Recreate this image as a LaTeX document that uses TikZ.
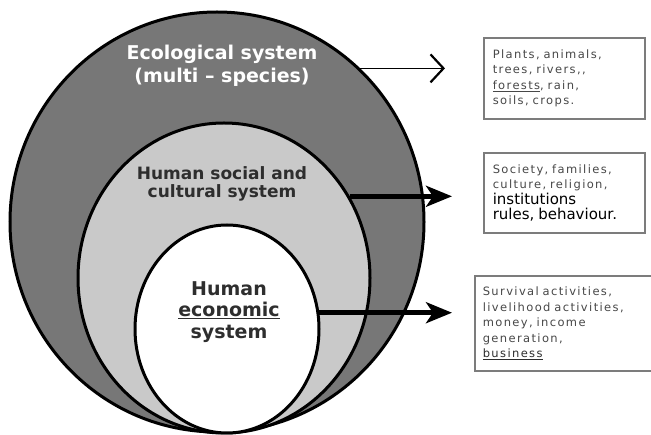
\documentclass[tikz,border=0pt]{standalone}
\usepackage{fontspec}
\setmainfont{DejaVu Sans}
\newfontfamily\spacedfont[LetterSpace=12,WordSpace=1.7]{DejaVu Sans}
\usepackage{xcolor}
\usepackage{tikz}
\usetikzlibrary{shapes.geometric,arrows.meta,positioning}

\definecolor{ecogray}{HTML}{777777}
\definecolor{socgray}{HTML}{C9C9C9}
\definecolor{boxline}{HTML}{7C7C7C}
\definecolor{boxtext}{HTML}{484848}
\definecolor{labeltext}{HTML}{2E2E2E}
\newcommand{\boxbig}{\color{black}\normalfont\fontsize{15}{16}\selectfont}

\begin{document}
\begin{tikzpicture}[x=1pt,y=-1pt,
    sys/.style={ellipse,draw=black,line width=3pt,inner sep=0pt},
    infobox/.style={draw=boxline,line width=1.6pt,fill=white,anchor=north west,
        align=left,inner ysep=0pt,text=boxtext,
        font=\spacedfont\fontsize{11.5}{15.5}\selectfont},
    thinarrow/.style={line width=1.5pt,-{Straight Barb[length=13pt,width=28pt,line width=2.2pt]}},
    fatarrow/.style={line width=4.5pt,-{Stealth[length=26pt,width=21pt,inset=7pt]}}]
    \useasboundingbox (0,0) rectangle (651,435);

    % Systems
    \node[sys,fill=ecogray,minimum width=414pt,minimum height=420pt] (eco) at (217,222) {};
    \node[sys,fill=socgray,minimum width=292pt,minimum height=310pt] (soc) at (224,278) {};
    \node[sys,fill=white,minimum width=184pt,minimum height=208pt] (econ) at (227,329) {};

    % Labels
    \node[text=white,align=center,font=\bfseries\fontsize{19}{23}\selectfont] (ecolabel) at (222,66)
        {Ecological system\\(multi \textendash{} species)};
    \node[text=labeltext,align=center,font=\bfseries\fontsize{17}{18}\selectfont] (soclabel) at (222,184)
        {Human social and\\cultural system};
    \node[text=labeltext,align=center,font=\bfseries\fontsize{19}{21.5}\selectfont] (econlabel) at (229,312)
        {Human\\\underline{economic}\\system};

    % Boxes
    \node[infobox,minimum height=81pt,inner xsep=9pt,text width=143pt] (ecobox) at (483,37)
        {Plants, animals,\\trees, rivers,,\\\underline{forests}, rain,\\soils, crops.};
    \node[infobox,minimum height=80pt,inner xsep=9pt,text width=143pt] (socbox) at (483,152)
        {Society, families,\\culture, religion,\\{\boxbig institutions}\\{\boxbig rules, behaviour.}};
    \node[infobox,minimum height=95pt,inner xsep=8pt,text width=168pt] (econbox) at (474,275)
        {Survival activities,\\livelihood activities,\\money, income\\generation,\\{\color{labeltext}\underline{business}}\\[-6pt]};

    % Arrows
    \draw[thinarrow,shorten >=38pt] (eco.47.5) -- (eco.47.5 -| ecobox.west);
    \draw[fatarrow,shorten >=31pt] (soc.33.4) -- (soc.33.4 -| socbox.west);
    \draw[fatarrow,shorten >=22pt] (econ.10) -- (econ.10 -| econbox.west);
\end{tikzpicture}
\end{document}
